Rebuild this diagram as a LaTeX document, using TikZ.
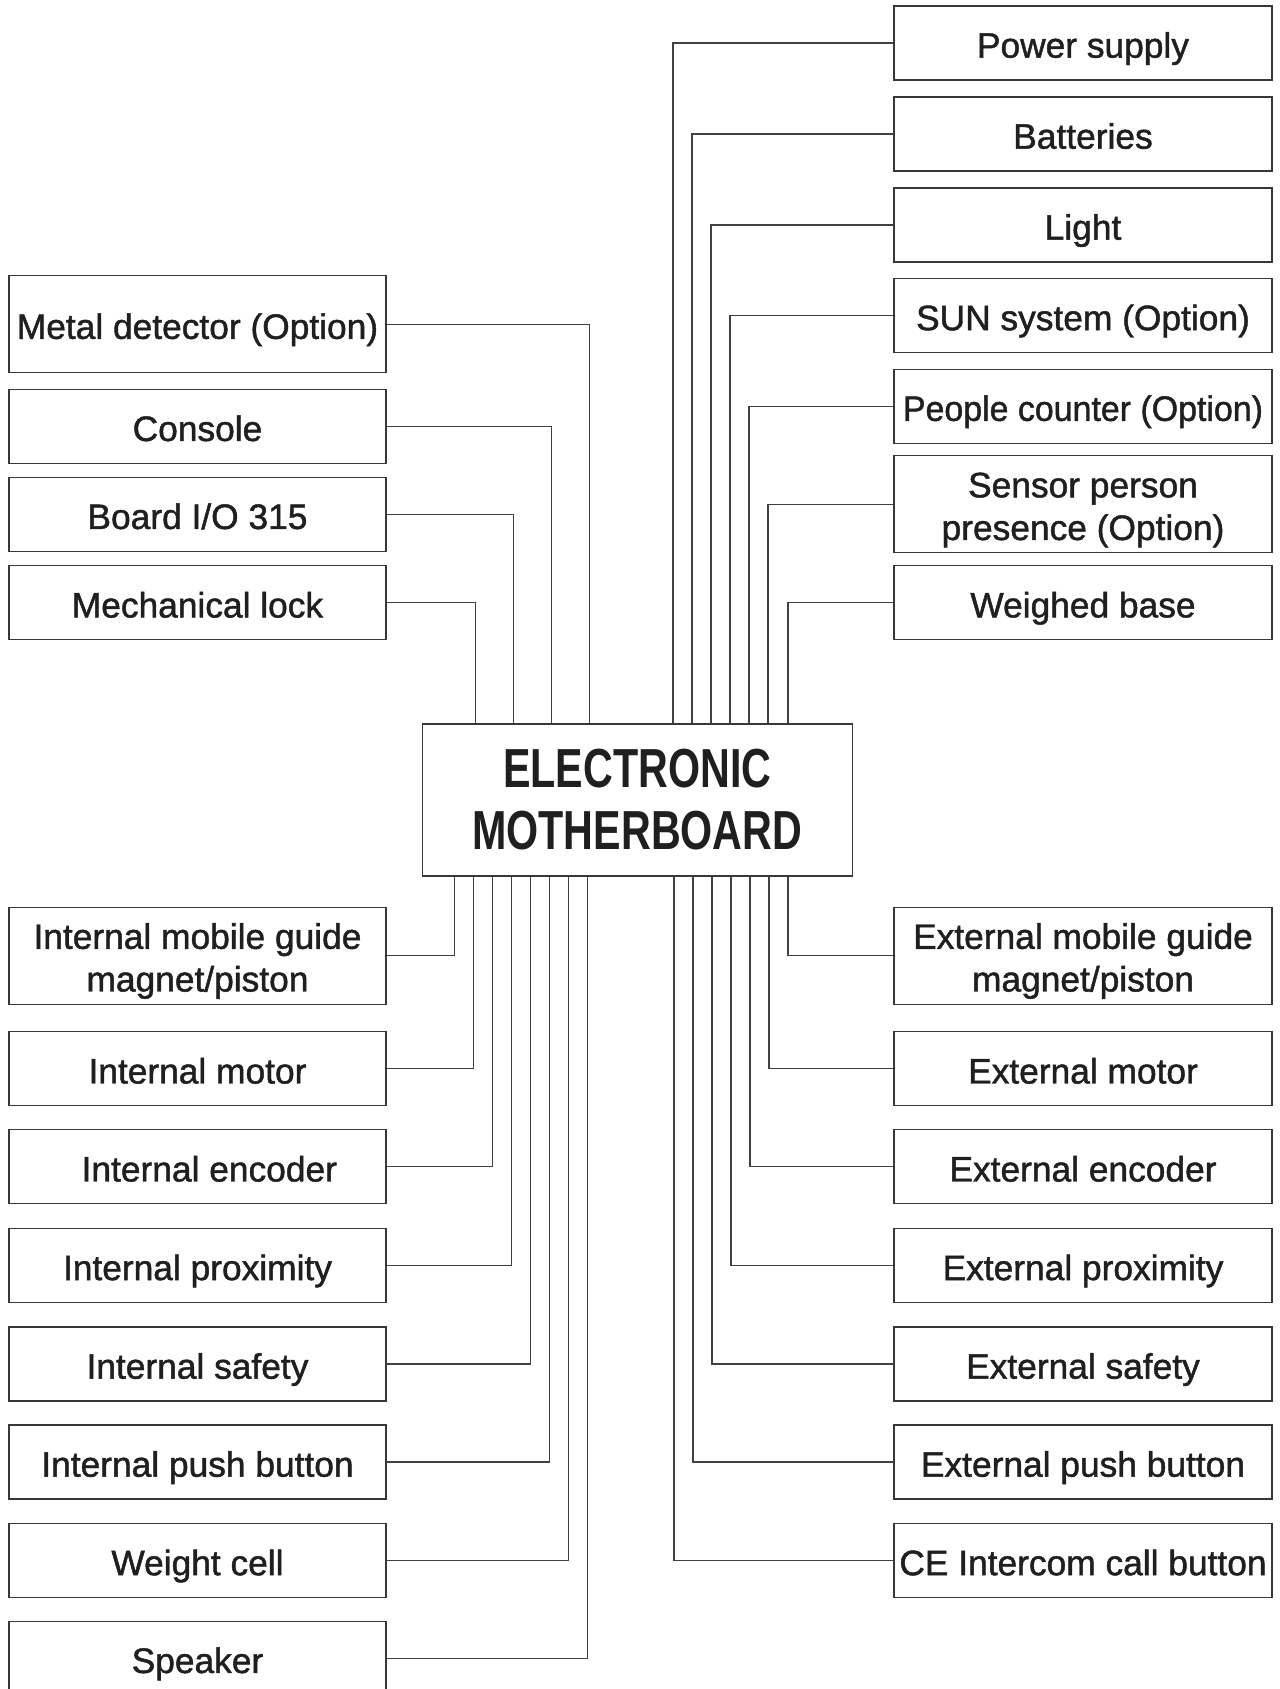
\documentclass[tikz,border=0pt]{standalone}
\usepackage{fontspec}
\usepackage{graphicx}
\setmainfont{Liberation Sans}
\newfontfamily\bodyfont[FakeBold=1.3]{Liberation Sans}
\usetikzlibrary{calc}
\begin{document}
\begin{tikzpicture}[x=0.75pt,y=-0.75pt,
  lbl/.style={font=\bodyfont\fontsize{26.5pt}{32pt}\selectfont, text=black!88},
  boxbase/.style={draw=black!78, line width=1pt, inner sep=0pt, lbl},
  sbox/.style={boxbase, minimum height=55.5pt, text height=22pt, text depth=0pt},
  tbox/.style={boxbase, minimum height=72.75pt, text height=22pt, text depth=0pt},
  dbox/.style={boxbase, minimum height=72.75pt, align=center},
  lw/.style={minimum width=282.75pt},
  rw/.style={minimum width=283.5pt},
  wire/.style={draw=black!75, line width=0.8pt}]
\useasboundingbox (0,0) rectangle (1279,1689);
\clip (0,0) rectangle (1279,1689);

% centre
\node[draw=black!78, line width=1pt, inner sep=0pt, minimum width=322.5pt, minimum height=114pt,
  align=center, text=black!88, font=\bfseries\fontsize{41.25pt}{46.5pt}\selectfont] (mb) at (637.3,800)
  {\scalebox{0.75}[1]{ELECTRONIC}\\\scalebox{0.75}[1]{MOTHERBOARD}};

% left top
\node[tbox,lw] (md) at (197.5,324.2) {Metal detector (Option)};
\node[sbox,lw] (console) at (197.5,426.3) {Console};
\node[sbox,lw] (board) at (197.5,514.3) {Board I/O 315};
\node[sbox,lw] (mech) at (197.5,602.8) {Mechanical lock};

% right top
\node[sbox,rw] (power) at (1083,43) {Power supply};
\node[sbox,rw] (batt) at (1083,134) {Batteries};
\node[sbox,rw] (light) at (1083,225) {Light};
\node[sbox,rw] (sun) at (1083,315.5) {SUN system (Option)};
\node[sbox,rw] (people) at (1083,406.2) {\scalebox{0.96}[1]{People counter (Option)}};
\node[dbox,rw] (sensor) at (1083,504.3) {\rule{0pt}{27pt}Sensor person\\presence (Option)};
\node[sbox,rw] (weigh) at (1083,602.7) {Weighed base};

% left bottom
\node[dbox,lw] (img) at (197.5,955.8) {\rule{0pt}{27pt}Internal mobile guide\\magnet/piston};
\node[sbox,lw] (imot) at (197.5,1068.8) {Internal motor};
\node[sbox,lw] (ienc) at (197.5,1166.8) {\hspace*{17.7pt}Internal encoder};
\node[sbox,lw] (iprox) at (197.5,1265.4) {Internal proximity};
\node[sbox,lw] (isaf) at (197.5,1364) {Internal safety};
\node[sbox,lw] (ipush) at (197.5,1462) {Internal push button};
\node[sbox,lw] (wcell) at (197.5,1560.5) {Weight cell};
\node[sbox,lw] (spk) at (197.5,1658.3) {Speaker};

% right bottom
\node[dbox,rw] (emg) at (1083,955.8) {\rule{0pt}{27pt}External mobile guide\\magnet/piston};
\node[sbox,rw] (emot) at (1083,1068.8) {External motor};
\node[sbox,rw] (eenc) at (1083,1166.8) {External encoder};
\node[sbox,rw] (eprox) at (1083,1265.4) {External proximity};
\node[sbox,rw] (esaf) at (1083,1364) {External safety};
\node[sbox,rw] (epush) at (1083,1462) {External push button};
\node[sbox,rw] (ce) at (1083,1560.5) {CE Intercom call button};

% wires left top
\draw[wire] (md.east) -| ($(mb.north west)+(168,0)$);
\draw[wire] (console.east) -| ($(mb.north west)+(130,0)$);
\draw[wire] (board.east) -| ($(mb.north west)+(92,0)$);
\draw[wire] (mech.east) -| ($(mb.north west)+(54,0)$);

% wires right top
\draw[wire] (power.west) -| ($(mb.north east)+(-180,0)$);
\draw[wire] (batt.west) -| ($(mb.north east)+(-161,0)$);
\draw[wire] (light.west) -| ($(mb.north east)+(-142,0)$);
\draw[wire] (sun.west) -| ($(mb.north east)+(-123,0)$);
\draw[wire] (people.west) -| ($(mb.north east)+(-104,0)$);
\draw[wire] (sensor.west) -| ($(mb.north east)+(-85,0)$);
\draw[wire] (weigh.west) -| ($(mb.north east)+(-65,0)$);

% wires left bottom
\draw[wire] (img.east) -| ($(mb.south west)+(33,0)$);
\draw[wire] (imot.east) -| ($(mb.south west)+(52,0)$);
\draw[wire] (ienc.east) -| ($(mb.south west)+(71,0)$);
\draw[wire] (iprox.east) -| ($(mb.south west)+(90,0)$);
\draw[wire] (isaf.east) -| ($(mb.south west)+(109,0)$);
\draw[wire] (ipush.east) -| ($(mb.south west)+(128,0)$);
\draw[wire] (wcell.east) -| ($(mb.south west)+(147,0)$);
\draw[wire] (spk.east) -| ($(mb.south west)+(166,0)$);

% wires right bottom
\draw[wire] (emg.west) -| ($(mb.south east)+(-65,0)$);
\draw[wire] (emot.west) -| ($(mb.south east)+(-84,0)$);
\draw[wire] (eenc.west) -| ($(mb.south east)+(-103,0)$);
\draw[wire] (eprox.west) -| ($(mb.south east)+(-122,0)$);
\draw[wire] (esaf.west) -| ($(mb.south east)+(-141,0)$);
\draw[wire] (epush.west) -| ($(mb.south east)+(-160,0)$);
\draw[wire] (ce.west) -| ($(mb.south east)+(-179,0)$);
\end{tikzpicture}
\end{document}
